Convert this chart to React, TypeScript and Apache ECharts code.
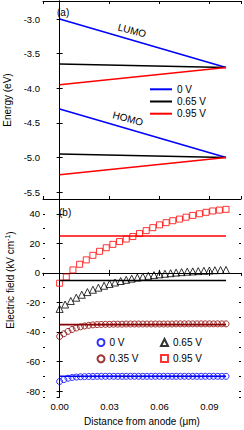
import React, { useEffect, useRef } from "react";
import * as echarts from "echarts";

// ---- Panel (a): energy levels ----
const lineX = [0, 0.1];
const lumo0 = [-3.0, -3.7];
const lumo065 = [-3.65, -3.7];
const lumo095 = [-3.95, -3.7];
const homo0 = [-4.3, -5.0];
const homo065 = [-4.95, -5.0];
const homo095 = [-5.25, -5.0];

// ---- Panel (b): electric field ----
const refLine0 = [-70, -70];
const refLine035 = [-35, -35];
const refLine065 = [-5.2, -5.2];
const refLine095 = [25, 25];

const circleX = [
  0, 0.0025, 0.005, 0.0075, 0.01, 0.0125, 0.015, 0.0175, 0.02, 0.0225,
  0.025, 0.0275, 0.03, 0.0325, 0.035, 0.0375, 0.04, 0.0425, 0.045, 0.0475,
  0.05, 0.0525, 0.055, 0.0575, 0.06, 0.0625, 0.065, 0.0675, 0.07, 0.0725,
  0.075, 0.0775, 0.08, 0.0825, 0.085, 0.0875, 0.09, 0.0925, 0.095, 0.0975, 0.1,
];
const field0 = [
  -73.5, -72.2, -71.3, -70.8, -70.5, -70.3, -70.2, -70.1, -70.1, -70.0,
  -70.0, -70.0, -70.0, -70.0, -70.0, -70.0, -70.0, -70.0, -70.0, -70.0,
  -70.0, -70.0, -70.0, -70.0, -70.0, -70.0, -70.0, -70.0, -70.0, -70.0,
  -70.0, -70.0, -70.0, -70.0, -70.0, -70.0, -70.0, -70.0, -70.0, -70.0, -70.0,
];
const field035 = [
  -43.0, -41.2, -39.6, -38.3, -37.3, -36.5, -35.9, -35.5, -35.2, -35.0,
  -34.9, -34.8, -34.8, -34.7, -34.7, -34.7, -34.6, -34.6, -34.6, -34.6,
  -34.6, -34.6, -34.6, -34.6, -34.6, -34.6, -34.6, -34.6, -34.5, -34.5,
  -34.5, -34.5, -34.5, -34.5, -34.5, -34.5, -34.5, -34.5, -34.5, -34.5, -34.5,
];
const triX = [
  0, 0.0033, 0.0067, 0.01, 0.0133, 0.0167, 0.02, 0.0233, 0.0267, 0.03,
  0.0333, 0.0367, 0.04, 0.0433, 0.0467, 0.05, 0.0533, 0.0567, 0.06, 0.0633,
  0.0667, 0.07, 0.0733, 0.0767, 0.08, 0.0833, 0.0867, 0.09, 0.0933, 0.0967, 0.1,
];
const field065 = [
  -24.4, -21.4, -19.0, -16.8, -14.8, -13.0, -11.4, -10.0, -8.7, -7.5,
  -6.5, -5.5, -4.7, -3.9, -3.2, -2.6, -2.0, -1.5, -1.0, -0.6,
  -0.2, 0.2, 0.5, 0.8, 1.0, 1.2, 1.4, 1.6, 1.8, 1.9, 2.0,
];
const squareX = [
  0, 0.004, 0.008, 0.012, 0.016, 0.02, 0.024, 0.028, 0.032, 0.036,
  0.04, 0.044, 0.048, 0.052, 0.056, 0.06, 0.064, 0.068, 0.072, 0.076,
  0.08, 0.084, 0.088, 0.092, 0.096, 0.1,
];
const field095 = [
  -7.0, -2.8, 2.0, 5.8, 8.8, 11.9, 14.6, 17.0, 19.3, 21.2,
  22.9, 24.6, 26.6, 28.6, 30.6, 32.5, 34.0, 35.3, 36.4, 37.7,
  38.9, 40.0, 41.0, 41.9, 42.5, 43.0,
];

const xTickLabels = ["0.00", "0.03", "0.06", "0.09"];

const legendText: Record<string, string> = {
  "0 V": "0 V",
  "0.65 V": "0.65 V",
  "0.95 V": "0.95 V",
  "E0": "0 V",
  "E035": "0.35 V",
  "E065": "0.65 V",
  "E095": "0.95 V",
};

const BLUE = "#0000ff";
const BLACK = "#000000";
const RED = "#ff0000";
const DARKRED = "#8b0000";
const FONT = "'Liberation Sans', Arial, sans-serif";

const pairs = (xs: number[], ys: number[]) => xs.map((x, i) => [x, ys[i]]);

export default function App() {
  const ref = useRef<HTMLDivElement>(null);
  useEffect(() => {
    if (!ref.current) return;
    const chart = echarts.init(ref.current, undefined, { renderer: "svg" });

    const baseX = (gridIndex: number, position: "top" | "bottom", labels: boolean) => ({
      type: "value",
      gridIndex,
      position,
      min: -0.01,
      max: 0.109,
      minInterval: 0.03,
      maxInterval: 0.03,
      splitLine: { show: false },
      axisLine: { lineStyle: { color: "#000", width: 1 } },
      axisTick: { inside: true, length: 3, lineStyle: { color: "#000" } },
      axisLabel: {
        show: labels,
        showMinLabel: false,
        showMaxLabel: false,
        color: "#000",
        fontSize: 9.5,
        fontFamily: FONT,
        margin: 4,
        formatter: (v: number) => {
          const idx = Math.round(v / 0.03);
          if (Math.abs(v - idx * 0.03) > 1e-6) return "";
          return xTickLabels[idx] ?? "";
        },
      },
    });

    const baseY = (
      gridIndex: number,
      position: "left" | "right",
      min: number,
      max: number,
      iv: number,
      labels: boolean,
      tickLen: number,
      showLine: boolean,
      fmt: (v: number) => string
    ) => ({
      type: "value",
      gridIndex,
      position,
      min,
      max,
      minInterval: iv,
      maxInterval: iv,
      splitLine: { show: false },
      axisLine: { show: showLine, lineStyle: { color: "#000", width: 1 } },
      axisTick: { inside: true, length: tickLen, lineStyle: { color: "#000" } },
      axisLabel: {
        show: labels,
        showMinLabel: false,
        showMaxLabel: false,
        color: "#000",
        fontSize: 9.5,
        fontFamily: FONT,
        margin: 3,
        formatter: fmt,
      },
    });

    const topFmt = (v: number) => {
      const k = Math.round(v / 0.5);
      if (Math.abs(v - k * 0.5) > 1e-6) return "";
      return v.toFixed(1);
    };
    const botFmt = (v: number) => {
      const k = Math.round(v / 20);
      if (Math.abs(v - k * 20) > 1e-6) return "";
      return String(Math.round(v));
    };

    const lineSeries = (name: string, xs: number[], ys: number[], color: string, xi: number, yi: number) => ({
      type: "line",
      name,
      xAxisIndex: xi,
      yAxisIndex: yi,
      data: pairs(xs, ys),
      symbol: "none",
      lineStyle: { color, width: 1.6 },
      itemStyle: { color },
      z: 3,
    });

    const scatterSeries = (name: string, xs: number[], ys: number[], color: string, symbol: string, size: number) => ({
      type: "scatter",
      name,
      xAxisIndex: 2,
      yAxisIndex: 2,
      data: pairs(xs, ys),
      symbol,
      symbolSize: size,
      itemStyle: { color: "rgba(0,0,0,0)", borderColor: color, borderWidth: 1 },
      z: 2,
    });

    chart.setOption({
      animation: false,
      backgroundColor: "#fff",
      textStyle: { fontFamily: FONT },
      grid: [
        { left: 43, top: 1, width: 198, height: 198, containLabel: false, outerBoundsMode: "none" },
        { left: 43, top: 199, width: 198, height: 198, containLabel: false, outerBoundsMode: "none" },
      ],
      xAxis: [
        baseX(0, "bottom", false),
        baseX(0, "top", false),
        {
          ...baseX(1, "bottom", true),
          name: "Distance from anode (μm)",
          nameLocation: "middle",
          nameGap: 19,
          nameTextStyle: { color: "#000", fontSize: 10, fontFamily: FONT },
        },
        baseX(1, "top", false),
      ],
      yAxis: [
        {
          ...baseY(0, "left", -5.6, -2.74, 0.5, true, 3, true, topFmt),
          name: "Energy (eV)",
          nameLocation: "middle",
          nameRotate: 90,
          nameGap: 29,
          nameTextStyle: { color: "#000", fontSize: 10, fontFamily: FONT },
        },
        baseY(0, "right", -5.6, -2.74, 0.5, false, 3, true, topFmt),
        {
          ...baseY(1, "left", -84, 50, 20, true, 3, true, botFmt),
          name: "Electric field (kV cm{sup|-1})",
          nameLocation: "middle",
          nameRotate: 90,
          nameGap: 27,
          nameTextStyle: {
            color: "#000",
            fontSize: 10,
            fontFamily: FONT,
            padding: [0, 0, 0, 36],
            rich: { sup: { fontSize: 7, fontFamily: FONT, color: "#000", padding: [0, 0, 5, 0] } },
          },
        },
        baseY(1, "right", -84, 50, 20, false, 3, true, botFmt),
        baseY(1, "left", -84, 50, 10, false, 2, false, botFmt),
        baseY(1, "right", -84, 50, 10, false, 2, false, botFmt),
      ],
      legend: [
        {
          orient: "vertical",
          left: 150,
          top: 83.3,
          padding: 0,
          itemWidth: 22,
          itemHeight: 2,
          itemGap: 0.2,
          textGap: 4,
          data: [
            { name: "0 V", icon: "rect" },
            { name: "0.65 V", icon: "rect" },
            { name: "0.95 V", icon: "rect" },
          ],
          formatter: (n: string) => legendText[n] ?? n,
          textStyle: { color: "#000", fontSize: 10, lineHeight: 12, fontFamily: FONT },
          selectedMode: false,
        },
        {
          orient: "vertical",
          left: 96.5,
          top: 337.5,
          padding: 0,
          itemWidth: 7,
          itemHeight: 7,
          itemGap: 6.3,
          textGap: 10,
          data: ["E0", "E035"],
          formatter: (n: string) => legendText[n] ?? n,
          textStyle: { color: "#000", fontSize: 10, fontFamily: FONT },
          selectedMode: false,
        },
        {
          orient: "vertical",
          left: 160,
          top: 337.5,
          padding: 0,
          itemWidth: 7,
          itemHeight: 7,
          itemGap: 6,
          textGap: 10,
          data: ["E065", "E095"],
          formatter: (n: string) => legendText[n] ?? n,
          textStyle: { color: "#000", fontSize: 10, fontFamily: FONT },
          selectedMode: false,
        },
      ],
      graphic: [
        { type: "text", x: 57, y: 12, style: { text: "(a)", fontSize: 10, fontFamily: FONT, fill: "#000", verticalAlign: "middle" } },
        { type: "text", x: 59, y: 212.5, style: { text: "(b)", fontSize: 10, fontFamily: FONT, fill: "#000", verticalAlign: "middle" } },
        {
          type: "text", x: 132, y: 30.5, rotation: -0.26,
          style: { text: "LUMO", fontSize: 10, fontFamily: FONT, fill: "#000", align: "center", verticalAlign: "middle" },
        },
        {
          type: "text", x: 128, y: 118.5, rotation: -0.26,
          style: { text: "HOMO", fontSize: 10, fontFamily: FONT, fill: "#000", align: "center", verticalAlign: "middle" },
        },
      ],
      series: [
        lineSeries("0 V", lineX, lumo0, BLUE, 0, 0),
        lineSeries("0.65 V", lineX, lumo065, BLACK, 0, 0),
        lineSeries("0.95 V", lineX, lumo095, RED, 0, 0),
        lineSeries("h0", lineX, homo0, BLUE, 0, 0),
        lineSeries("h065", lineX, homo065, BLACK, 0, 0),
        lineSeries("h095", lineX, homo095, RED, 0, 0),
        lineSeries("r0", lineX, refLine0, BLUE, 2, 2),
        lineSeries("r035", lineX, refLine035, DARKRED, 2, 2),
        lineSeries("r065", lineX, refLine065, BLACK, 2, 2),
        lineSeries("r095", lineX, refLine095, RED, 2, 2),
        scatterSeries("E0", circleX, field0, BLUE, "circle", 6),
        scatterSeries("E035", circleX, field035, DARKRED, "circle", 6),
        scatterSeries("E065", triX, field065, BLACK, "triangle", 7),
        scatterSeries("E095", squareX, field095, RED, "rect", 6),
      ],
    });
    return () => chart.dispose();
  }, []);
  return <div ref={ref} style={{ width: 244, height: 430, position: "absolute", left: 0, top: 0 }} />;
}
